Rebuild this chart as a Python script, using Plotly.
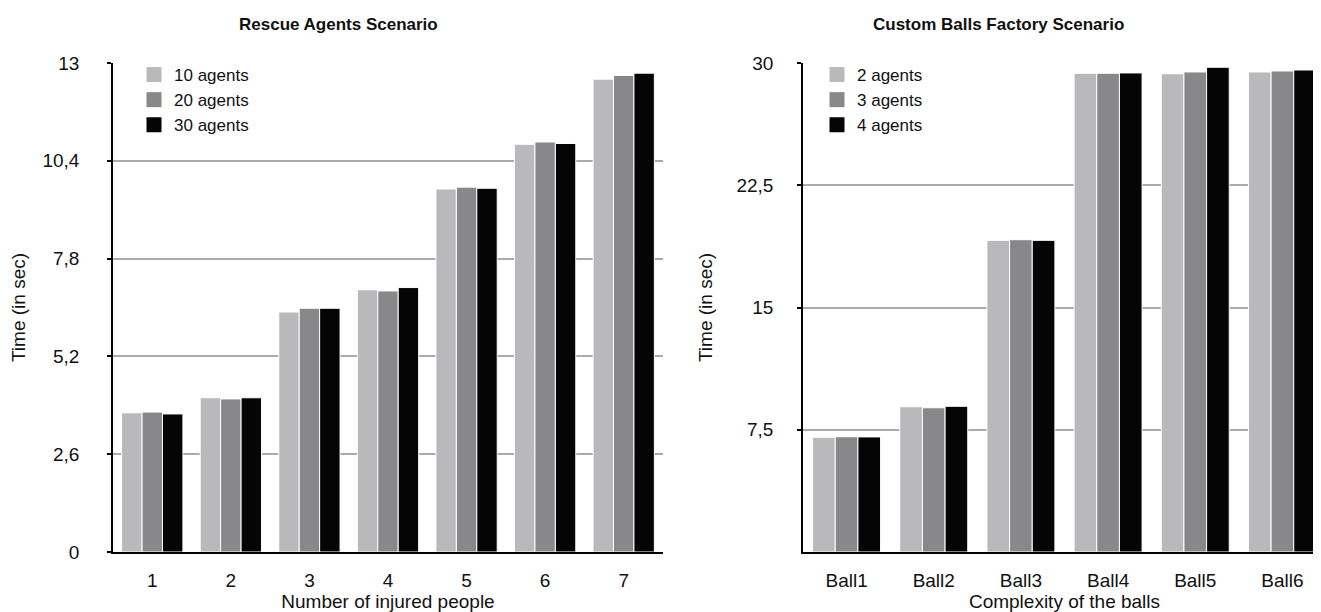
import plotly.graph_objects as go

W, H = 1321, 612

# ---------------- data ----------------
rescue_categories = ["1", "2", "3", "4", "5", "6", "7"]
rescue_10_agents = [3.70, 4.10, 6.38, 6.97, 9.65, 10.84, 12.57]
rescue_20_agents = [3.72, 4.07, 6.48, 6.94, 9.70, 10.90, 12.67]
rescue_30_agents = [3.67, 4.10, 6.48, 7.03, 9.67, 10.86, 12.73]
rescue_tickvals = [0, 2.6, 5.2, 7.8, 10.4, 13]
rescue_ticktext = ["0", "2,6", "5,2", "7,8", "10,4", "13"]

balls_categories = ["Ball1", "Ball2", "Ball3", "Ball4", "Ball5", "Ball6"]
balls_2_agents = [7.04, 8.91, 19.12, 29.37, 29.34, 29.45]
balls_3_agents = [7.07, 8.85, 19.16, 29.37, 29.45, 29.51]
balls_4_agents = [7.06, 8.94, 19.12, 29.39, 29.74, 29.57]
balls_tickvals = [7.5, 15, 22.5, 30]
balls_ticktext = ["7,5", "15", "22,5", "30"]

# ---------------- styles ----------------
FONT = "Liberation Sans, Arial, Helvetica, sans-serif"
C_LIGHT = "#B9B9BC"
C_MID = "#88888A"
C_DARK = "#050505"
GRID = "#ABABAB"
TXT = "#111111"
FS = 19


def px_x(p):
    return p / W


def px_y(p):
    return 1 - p / H


fig = go.Figure()


def add_series(cats, names, series, xa, ya, leg):
    for name, vals, col in zip(names, series, [C_LIGHT, C_MID, C_DARK]):
        fig.add_trace(go.Bar(x=cats, y=vals, name=name, showlegend=False,
                             marker=dict(color=col, line=dict(color="white", width=1)),
                             xaxis=xa, yaxis=ya, hoverinfo="x+y+name"))
    # legend swatches (square markers, no data)
    for name, col in zip(names, [C_LIGHT, C_MID, C_DARK]):
        fig.add_trace(go.Scatter(x=[None], y=[None], mode="markers", name=name,
                                 marker=dict(symbol="square", size=15, color=col),
                                 xaxis=xa, yaxis=ya, legend=leg))


add_series(rescue_categories, ["10 agents", "20 agents", "30 agents"],
           [rescue_10_agents, rescue_20_agents, rescue_30_agents], "x", "y", "legend")
add_series(balls_categories, ["2 agents", "3 agents", "4 agents"],
           [balls_2_agents, balls_3_agents, balls_4_agents], "x2", "y2", "legend2")

ydom = [px_y(544), px_y(55)]

common_x = dict(showline=True, linecolor="black", linewidth=1.5, ticks="",
                showgrid=False, tickfont=dict(family=FONT, size=FS, color=TXT),
                ticklabelstandoff=10, automargin=False, fixedrange=True)
common_y = dict(showline=True, linecolor="black", linewidth=1.5, ticks="outside",
                ticklen=4, tickcolor="black", tickwidth=1.5,
                showgrid=True, gridcolor=GRID, gridwidth=1.5, zeroline=False,
                tickfont=dict(family=FONT, size=FS, color=TXT),
                automargin=False, fixedrange=True, tickmode="array")

fig.update_layout(
    width=W, height=H,
    margin=dict(l=0, r=0, t=0, b=0),
    paper_bgcolor="white", plot_bgcolor="white",
    barmode="group", bargap=0.22, bargroupgap=0.0,
    font=dict(family=FONT, size=FS, color=TXT),
    xaxis=dict(domain=[px_x(105), px_x(655)], anchor="y",
               categoryorder="array", categoryarray=rescue_categories,
               title=dict(text="Number of injured people", standoff=3,
                          font=dict(family=FONT, size=FS)), **common_x),
    yaxis=dict(domain=ydom, anchor="x", range=[0, 13],
               tickvals=rescue_tickvals, ticktext=rescue_ticktext,
               ticklabelstandoff=24,
               title=dict(text="Time (in sec)", standoff=14,
                          font=dict(family=FONT, size=FS)), **common_y),
    xaxis2=dict(domain=[px_x(795), px_x(1318)], anchor="y2",
                categoryorder="array", categoryarray=balls_categories,
                title=dict(text="Complexity of the balls", standoff=3,
                           font=dict(family=FONT, size=FS)), **common_x),
    yaxis2=dict(domain=ydom, anchor="x2", range=[0, 30],
                tickvals=balls_tickvals, ticktext=balls_ticktext,
                ticklabelstandoff=20,
                title=dict(text="Time (in sec)", standoff=19,
                           font=dict(family=FONT, size=FS)), **common_y),
    legend=dict(x=px_x(126), y=px_y(49), xanchor="left", yanchor="top",
                bgcolor="rgba(0,0,0,0)", font=dict(family=FONT, size=17, color=TXT),
                traceorder="normal", itemclick=False, itemdoubleclick=False),
    legend2=dict(x=px_x(809), y=px_y(49), xanchor="left", yanchor="top",
                 bgcolor="rgba(0,0,0,0)", font=dict(family=FONT, size=17, color=TXT),
                 traceorder="normal", itemclick=False, itemdoubleclick=False),
    annotations=[
        dict(text="<b>Rescue Agents Scenario</b>", xref="paper", yref="paper",
             x=px_x(330), y=px_y(16), xanchor="center", yanchor="middle",
             showarrow=False, font=dict(family=FONT, size=17, color=TXT)),
        dict(text="<b>Custom Balls Factory Scenario</b>", xref="paper", yref="paper",
             x=px_x(990), y=px_y(16), xanchor="center", yanchor="middle",
             showarrow=False, font=dict(family=FONT, size=17, color=TXT)),
    ],
)

fig.write_html("out.html")
